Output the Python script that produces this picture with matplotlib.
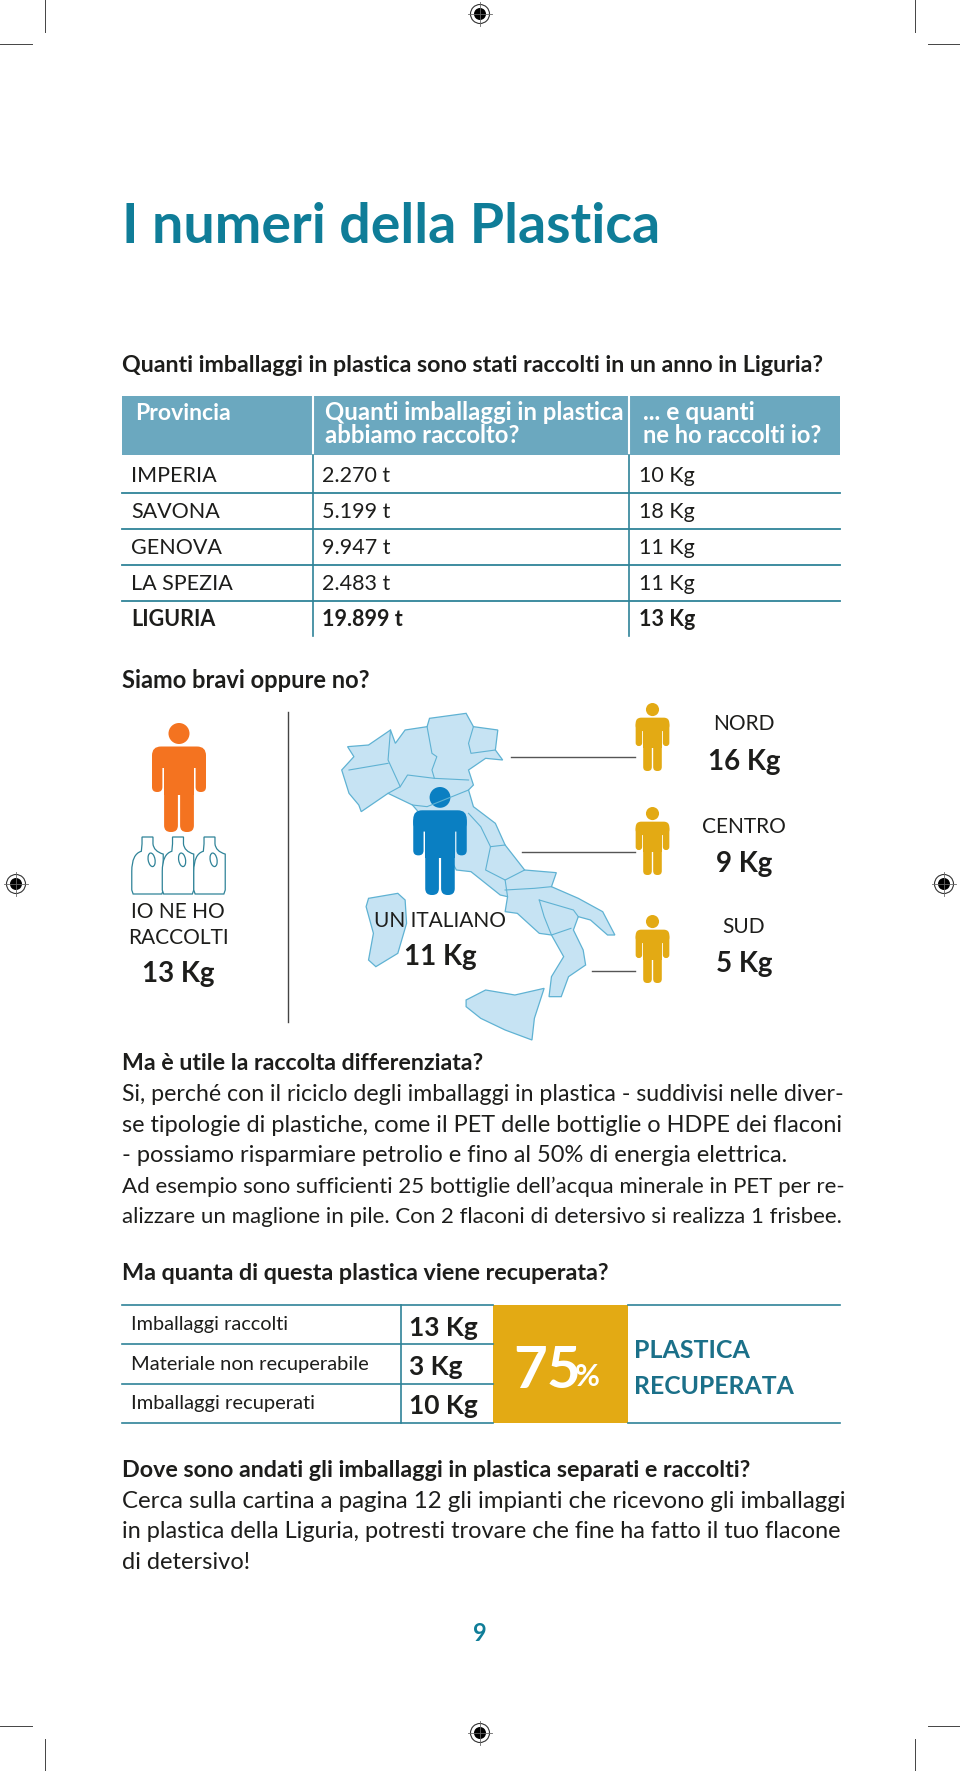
import matplotlib
matplotlib.use("Agg")
import matplotlib.pyplot as plt
from matplotlib.patches import Rectangle, Circle, Polygon, FancyBboxPatch, Ellipse, PathPatch
from matplotlib.path import Path

plt.rcParams['font.family'] = ['Lato', 'DejaVu Sans']

TEAL = '#0f7d98'
HEAD = '#6ba8bf'
RULE = '#2f8398'
INK = '#1d1d1b'
GOLD = '#e3aa14'

# dati
provinces = ['IMPERIA', 'SAVONA', 'GENOVA', 'LA SPEZIA', 'LIGURIA']
tonnes = ['2.270 t', '5.199 t', '9.947 t', '2.483 t', '19.899 t']
kg_each = ['10 Kg', '18 Kg', '11 Kg', '11 Kg', '13 Kg']
areas = ['NORD', 'CENTRO', 'SUD']
area_kg = ['16 Kg', '9 Kg', '5 Kg']
recovery_labels = ['Imballaggi raccolti', 'Materiale non recuperabile', 'Imballaggi recuperati']
recovery_kg = ['13 Kg', '3 Kg', '10 Kg']

body_1 = ['Si, perché con il riciclo degli imballaggi in plastica - suddivisi nelle diver-',
          'se tipologie di plastiche, come il PET delle bottiglie o HDPE dei flaconi',
          '- possiamo risparmiare petrolio e fino al 50% di energia elettrica.',
          'Ad esempio sono sufficienti 25 bottiglie dell’acqua minerale in PET per re-',
          'alizzare un maglione in pile. Con 2 flaconi di detersivo si realizza 1 frisbee.']
body_2 = ['Cerca sulla cartina a pagina 12 gli impianti che ricevono gli imballaggi',
          'in plastica della Liguria, potresti trovare che fine ha fatto il tuo flacone',
          'di detersivo!']

# sagome della mappa (coordinate del ritaglio, convertite sotto)
mainland = [(487, 170), (530, 165), (575, 120), (585, 160), (605, 120), (650, 110), (655, 85), (730, 70),
            (745, 110), (795, 120), (790, 180), (805, 210), (770, 205), (735, 240), (745, 285), (735, 300),
            (745, 350), (790, 400), (810, 465), (850, 540), (915, 548), (905, 590), (960, 625), (1010, 665),
            (1035, 735), (1020, 735), (985, 690), (960, 680), (950, 720), (970, 780), (975, 825), (940, 860),
            (925, 920), (900, 920), (905, 860), (930, 800), (905, 735), (880, 730), (835, 670), (810, 665),
            (815, 620), (800, 615), (740, 545), (710, 540), (670, 430), (620, 345), (570, 310), (515, 365),
            (510, 345), (490, 310), (475, 240), (500, 200)]
sardinia = [(530, 625), (590, 610), (605, 630), (608, 700), (590, 790), (545, 830), (530, 810), (540, 730), (525, 650)]
sicily = [(730, 930), (770, 900), (830, 915), (890, 895), (870, 985), (865, 1050), (810, 1020), (760, 985), (730, 950)]
borders = [[(575, 120), (570, 210), (595, 290), (570, 310)],
           [(650, 110), (660, 190), (670, 200), (660, 240), (665, 265)],
           [(745, 110), (735, 160), (740, 190), (790, 180)],
           [(595, 290), (610, 255), (665, 265), (735, 270)],
           [(490, 240), (570, 220)],
           [(620, 345), (650, 350), (735, 300)],
           [(735, 370), (760, 410), (780, 470), (810, 465)],
           [(780, 470), (770, 540), (810, 570), (815, 620)],
           [(810, 570), (850, 540)],
           [(810, 600), (870, 595), (905, 590)],
           [(880, 630), (890, 680), (905, 735), (945, 715)],
           [(880, 630), (950, 660), (960, 680)]]


def cx(p):
    return 110 + p[0] / 2.05, 690 + p[1] / 3


fig = plt.figure(figsize=(9.6, 17.71), dpi=100)
ax = fig.add_axes([0, 0, 1, 1])
ax.set_xlim(0, 960)
ax.set_ylim(1771, 0)
ax.axis('off')
rend = fig.canvas.get_renderer()


def T(x, y, s, size=13, color=INK, weight='normal', ha='left', right=None):
    # y = centro delle maiuscole
    t = ax.text(x, y + 0.46 * size, s, fontsize=size, color=color, fontweight=weight, ha=ha, va='baseline')
    if right is not None:
        w = t.get_window_extent(rend).width
        t.set_fontsize(size * (right - x) / w)
    return t


def rrect(x0, y0, x1, y1, r, color):
    ax.add_patch(FancyBboxPatch((x0, y0), x1 - x0, y1 - y0, boxstyle=f'round,pad=0,rounding_size={r}',
                                fc=color, ec='none', lw=0))


def man(c, top, h, color):
    s = h / 109
    ax.add_patch(Circle((c, top + 10.5 * s), 10.5 * s, fc=color, ec='none'))
    rrect(c - 27 * s, top + 23.5 * s, c + 27 * s, top + 45 * s, 9 * s, color)
    ax.add_patch(Rectangle((c - 15 * s, top + 32 * s), 30 * s, 40 * s, fc=color, ec='none'))
    for sgn in (-1, 1):
        rrect(c + sgn * 21.8 * s - 5.2 * s, top + 30 * s, c + sgn * 21.8 * s + 5.2 * s, top + 69 * s, 5 * s, color)
        rrect(c + sgn * 8 * s - 6.9 * s, top + 60 * s, c + sgn * 8 * s + 6.9 * s, top + 109 * s, 6.5 * s, color)


def bottle(c, top, h):
    w = h * 0.24
    verts = [(c - w * 0.3, top + h), (c - w * 1.05, top + h), (c - w * 1.15, top + h * 0.93), (c - w * 1.15, top + h * 0.6),
             (c - w * 1.15, top + h * 0.3), (c - w * 0.45, top + h * 0.25), (c - w * 0.4, top + h * 0.12),
             (c - w * 0.4, top), (c + w * 0.4, top), (c + w * 0.4, top + h * 0.12),
             (c + w * 0.45, top + h * 0.25), (c + w * 1.15, top + h * 0.3), (c + w * 1.15, top + h * 0.6),
             (c + w * 1.15, top + h * 0.93), (c + w * 1.05, top + h), (c - w * 0.3, top + h)]
    codes = [Path.MOVETO, Path.LINETO, Path.LINETO, Path.LINETO, Path.CURVE3, Path.CURVE3, Path.LINETO,
             Path.LINETO, Path.LINETO, Path.LINETO, Path.CURVE3, Path.CURVE3, Path.LINETO, Path.LINETO,
             Path.LINETO, Path.LINETO]
    ax.add_patch(PathPatch(Path(verts, codes), fc='white', ec='#2f8398', lw=0.9))
    ax.add_patch(Ellipse((c + w * 0.3, top + h * 0.4), w * 0.5, h * 0.24, angle=-10, fc='white', ec='#2f8398', lw=0.9))


def regmark(x, y):
    ax.add_patch(Circle((x, y), 9.5, fc='none', ec='#333333', lw=0.8))
    ax.add_patch(Circle((x, y), 6, fc='black', ec='none'))
    ax.plot([x - 12, x + 12], [y, y], color='#666666', lw=0.6)
    ax.plot([x, x], [y - 12, y + 12], color='#666666', lw=0.6)


# segni di taglio
for xv, xa, xb in [(44.5, 0, 32), (915, 928, 960)]:
    ax.plot([xv, xv], [0, 32], color='#444444', lw=0.7)
    ax.plot([xv, xv], [1739, 1771], color='#444444', lw=0.7)
    ax.plot([xa, xb], [44, 44], color='#444444', lw=0.7)
    ax.plot([xa, xb], [1726, 1726], color='#444444', lw=0.7)
for m in [(480, 14), (16, 884), (944, 884), (480, 1733)]:
    regmark(*m)

# titolo
T(122, 225, 'I numeri della Plastica', 40, TEAL, 'bold', right=660)

# tabella province
T(122, 365, 'Quanti imballaggi in plastica sono stati raccolti in un anno in Liguria?', 15, INK, 'bold', right=826)
ax.add_patch(Rectangle((122, 396), 718, 59, fc=HEAD, ec='none'))
ax.plot([313, 313], [396, 455], color='white', lw=1.5)
ax.plot([629, 629], [396, 455], color='white', lw=1.5)
T(135, 413, 'Provincia', 15, 'white', 'bold', right=231)
T(325, 413, 'Quanti imballaggi in plastica', 15, 'white', 'bold', right=623)
T(325, 436, 'abbiamo raccolto?', 15, 'white', 'bold', right=520)
T(643, 413, '... e quanti', 15, 'white', 'bold', right=755)
T(643, 436, 'ne ho raccolti io?', 15, 'white', 'bold', right=823)
row_y = [475, 511, 547, 583, 619]
for i, py in enumerate(row_y):
    w = 'bold' if provinces[i] == 'LIGURIA' else 'normal'
    T(131, py, provinces[i], 15.5, INK, w)
    T(322, py, tonnes[i], 15.5, INK, w)
    T(639, py, kg_each[i], 15.5, INK, w)
    if i < 4:
        ax.plot([122, 840], [py + 18, py + 18], color=RULE, lw=1.3)
ax.plot([313, 313], [455, 636], color=RULE, lw=1.2)
ax.plot([629, 629], [455, 636], color=RULE, lw=1.2)

T(122, 681, 'Siamo bravi oppure no?', 15, INK, 'bold', right=371)

# infografica
ax.plot([288, 288], [712, 1022], color='#444444', lw=1)
for shape in (mainland, sardinia, sicily):
    ax.add_patch(Polygon([cx(p) for p in shape], closed=True, fc='#c6e3f3', ec='#5fb2d3', lw=0.9))
for line in borders:
    pts = [cx(p) for p in line]
    ax.plot([p[0] for p in pts], [p[1] for p in pts], color='#5fb2d3', lw=0.8)

man(179, 723, 109, '#f47320')
for c in (147.5, 178, 209.5):
    bottle(c, 837, 57)
T(178, 911, 'IO NE HO', 15, ha='center')
T(178, 937, 'RACCOLTI', 15, ha='center')
T(178, 973, '13 Kg', 20, INK, 'bold', ha='center')

man(440, 787, 108, '#0a7fc2')
T(440, 920, 'UN ITALIANO', 15, ha='center')
T(440, 956, '11 Kg', 20, INK, 'bold', ha='center')

man_top = [703, 807, 915]
line_y = [757, 852, 971]
line_x = [511, 522, 592]
label_y = [723, 826, 926]
value_y = [761, 863, 963]
for i in range(3):
    ax.plot([line_x[i], 635], [line_y[i], line_y[i]], color='#555555', lw=1)
    man(652.5, man_top[i], 68, GOLD)
    T(744, label_y[i], areas[i], 15, ha='center')
    T(744, value_y[i], area_kg[i], 20, INK, 'bold', ha='center')

# testi
T(122, 1063, 'Ma è utile la raccolta differenziata?', 15, INK, 'bold', right=484)
body_1_y = [1094, 1125, 1155, 1186, 1216]
body_1_r = [845, 844, 787, 845, 840]
for s, py, r in zip(body_1, body_1_y, body_1_r):
    T(122, py, s, 15, right=r)

T(122, 1273, 'Ma quanta di questa plastica viene recuperata?', 15, INK, 'bold', right=610)

# recupero
for xa, xb in [(122, 493), (628, 840)]:
    ax.plot([xa, xb], [1305, 1305], color=RULE, lw=1.2)
    ax.plot([xa, xb], [1423, 1423], color=RULE, lw=1.2)
ax.plot([122, 493], [1344, 1344], color=RULE, lw=1.2)
ax.plot([122, 493], [1384, 1384], color=RULE, lw=1.2)
ax.plot([401, 401], [1305, 1423], color=RULE, lw=1.2)
ax.add_patch(Rectangle((493, 1305), 135, 118, fc=GOLD, ec='none'))
rec_y = [1324, 1364, 1403]
rec_val_y = [1327, 1366, 1405]
rec_r = [288, 368, 315]
for i in range(3):
    T(131, rec_y[i], recovery_labels[i], 13, right=rec_r[i])
    T(409, rec_val_y[i], recovery_kg[i], 19, INK, 'bold')
T(513, 1369, '75', 42, 'white', 'bold')
T(575, 1376, '%', 22, 'white', 'bold')
T(634, 1349, 'PLASTICA', 19, '#1b7089', 'bold', right=750)
T(634, 1385, 'RECUPERATA', 19, '#1b7089', 'bold', right=793)

T(122, 1470, 'Dove sono andati gli imballaggi in plastica separati e raccolti?', 15, INK, 'bold', right=752)
body_2_y = [1501, 1531, 1562]
body_2_r = [844, 844, 250]
for s, py, r in zip(body_2, body_2_y, body_2_r):
    T(122, py, s, 15, right=r)

T(480, 1633, '9', 17, TEAL, 'bold', ha='center')

fig.savefig('out.png', dpi=100)
